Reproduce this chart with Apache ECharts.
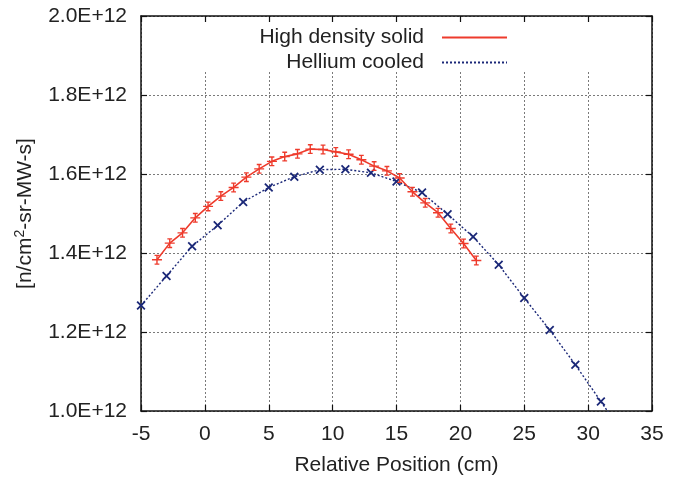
<!DOCTYPE html>
<html>
<head>
<meta charset="utf-8">
<script src="https://cdn.jsdelivr.net/npm/echarts@6/dist/echarts.min.js"></script>
<style>
html,body{margin:0;padding:0;background:#fff;}
#c{width:678px;height:482px;}
</style>
</head>
<body>
<div id="c"></div>
<script>
// Data (y in units of 1E+12 n/cm2-sr-MW-s)
const solidX = [-3.75,-2.75,-1.75,-0.75,0.25,1.25,2.25,3.25,4.25,5.25,6.25,7.25,8.25,9.25,10.25,11.25,12.25,13.25,14.25,15.25,16.25,17.25,18.25,19.25,20.25,21.25];
const solidY = [1.383,1.425,1.451,1.489,1.518,1.544,1.566,1.592,1.613,1.632,1.644,1.651,1.663,1.662,1.656,1.650,1.636,1.620,1.608,1.590,1.555,1.527,1.502,1.462,1.424,1.381];
const heliumX = [-5,-3,-1,1,3,5,7,9,11,13,15,17,19,21,23,25,27,29,31,33];
const heliumY = [1.267,1.342,1.417,1.470,1.529,1.566,1.593,1.611,1.612,1.603,1.581,1.553,1.498,1.441,1.370,1.286,1.205,1.117,1.024,0.930];
const seriesNames = ['High density solid','Hellium cooled'];
const xTitle = 'Relative Position (cm)';

const FONT = '"Liberation Sans", Arial, sans-serif';
const RED = '#ee3b2c';
const BLUE = '#1b2878';

const plusSym = 'path://M4.3 0h1.4v10h-1.4zM0 4.3h10v1.4h-10zM2.6 0h4.8v1.3h-4.8zM2.6 8.7h4.8v1.3h-4.8z';
const crossSym = 'path://M0 1.4L1.4 0L5 3.6L8.6 0L10 1.4L6.4 5L10 8.6L8.6 10L5 6.4L1.4 10L0 8.6L3.6 5Z';

const chart = echarts.init(document.getElementById('c'));
const gridLine = {show:true, lineStyle:{color:'#7a7a7a', width:1, type:[2,2]}};
const frame = {show:true, onZero:false, lineStyle:{color:'#111', width:1.5}};
const ticks = {show:true, inside:true, length:6, lineStyle:{color:'#111', width:1.2}};
chart.setOption({
  animation:false,
  backgroundColor:'#fff',
  textStyle:{fontFamily:FONT},
  grid:{left:141, right:26, top:16, bottom:71},
  legend:{
    orient:'vertical', align:'right', right:165, top:22,
    itemWidth:65, itemHeight:14, itemGap:4,
    textStyle:{fontFamily:FONT, fontSize:21, color:'#222', lineHeight:21, padding:[0,13,0,0]},
    itemStyle:{opacity:0},
    data:seriesNames
  },
  xAxis:[{
    type:'value', min:-5, max:35, interval:5, position:'bottom',
    axisLine:frame, axisTick:ticks,
    axisLabel:{fontFamily:FONT, fontSize:21, color:'#222', margin:13},
    splitLine:gridLine,
    name:xTitle, nameLocation:'middle', nameGap:44,
    nameTextStyle:{fontFamily:FONT, fontSize:21, color:'#222'}
  },{
    type:'value', min:-5, max:35, interval:5, position:'top',
    axisLine:frame, axisTick:ticks,
    axisLabel:{show:false}, splitLine:{show:false}
  }],
  yAxis:[{
    type:'value', min:1.0, max:2.0, interval:0.2, position:'left',
    axisLine:frame, axisTick:ticks,
    axisLabel:{fontFamily:FONT, fontSize:21, color:'#222', margin:14,
      formatter:v => v.toFixed(1) + 'E+12'},
    splitLine:gridLine,
    name:'{a|[n/cm}{s|2}{a|-sr-MW-s]}', nameLocation:'middle', nameGap:104, nameRotate:90,
    nameTextStyle:{rich:{
      a:{fontFamily:FONT, fontSize:21, color:'#222', lineHeight:24},
      s:{fontFamily:FONT, fontSize:14, color:'#222', lineHeight:24, verticalAlign:'top', padding:[0,0,10,0]}
    }}
  },{
    type:'value', min:1.0, max:2.0, interval:0.2, position:'right',
    axisLine:frame, axisTick:ticks,
    axisLabel:{show:false}, splitLine:{show:false}
  }],
  graphic:{z:1, elements:[{type:'rect', z:1, z2:100, silent:true,
    shape:{x:143, y:23, width:508, height:48}, style:{fill:'#fff'}}]},
  series:[{
    name:seriesNames[0], type:'line', xAxisIndex:0, yAxisIndex:0,
    data:solidX.map((x,i)=>[x, solidY[i]]),
    symbol:plusSym, symbolSize:10, clip:true,
    lineStyle:{color:RED, width:1.6}, itemStyle:{color:RED}, z:3
  },{
    name:seriesNames[1], type:'line', xAxisIndex:0, yAxisIndex:0,
    data:heliumX.map((x,i)=>[x, heliumY[i]]),
    symbol:crossSym, symbolSize:9, clip:true,
    lineStyle:{color:BLUE, width:1.4, type:[2,2]}, itemStyle:{color:BLUE}, z:2
  }]
});
</script>
</body>
</html>
